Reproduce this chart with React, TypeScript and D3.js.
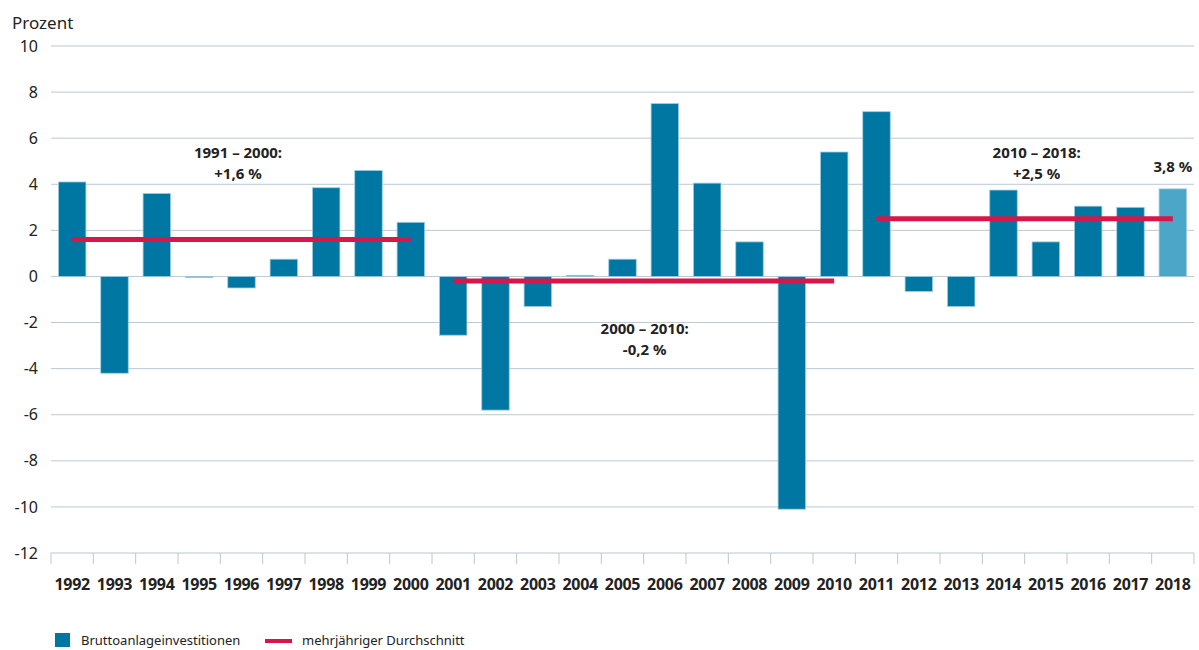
import * as d3 from "d3";

const years = [
  "1992", "1993", "1994", "1995", "1996", "1997", "1998", "1999", "2000",
  "2001", "2002", "2003", "2004", "2005", "2006", "2007", "2008", "2009",
  "2010", "2011", "2012", "2013", "2014", "2015", "2016", "2017", "2018",
];
const values = [
  4.1, -4.2, 3.6, -0.05, -0.5, 0.75, 3.85, 4.6, 2.35,
  -2.55, -5.8, -1.3, 0.05, 0.75, 7.5, 4.05, 1.5, -10.1,
  5.4, 7.15, -0.65, -1.3, 3.75, 1.5, 3.05, 3.0, 3.8,
];
const yTicks = [10, 8, 6, 4, 2, 0, -2, -4, -6, -8, -10, -12];

// mehrjähriger Durchschnitt
const avgFrom = ["1992", "2001", "2011"];
const avgTo = ["2000", "2010", "2018"];
const avgValues = [1.6, -0.2, 2.5];
const avgLabels = [
  ["1991 – 2000:", "+1,6 %"],
  ["2000 – 2010:", "-0,2 %"],
  ["2010 – 2018:", "+2,5 %"],
];
const avgLabelAt = [5.15, -2.5, 5.15];

const W = 1199;
const H = 650;
const BLUE = "#0077a3";
const LIGHT = "#4ca6c8";
const RED = "#d7174a";
const GRID = "#b9c9d5";
const FONT = "'Noto Sans', sans-serif";

export default function App() {
  const x = d3.scaleBand<string>().domain(years).range([51, 1194]).paddingInner(0.35).paddingOuter(0.175);
  const y = d3.scaleLinear().domain([-12, 10]).range([553, 46]);
  const step = x.step();
  const left = 51;

  return (
    <svg width={W} height={H} style={{ position: "absolute", left: 0, top: 0 }} fontFamily={FONT}>
      <text x={12} y={29} fontSize={17} fill="#222">Prozent</text>

      {yTicks.map((t) => (
        <g key={t}>
          <line x1={left} x2={1194} y1={y(t)} y2={y(t)} stroke={GRID} strokeWidth={1} />
          <text x={38} y={y(t)} dy="0.35em" textAnchor="end" fontSize={16} fill="#222">
            {t}
          </text>
        </g>
      ))}

      {d3.range(years.length + 1).map((i) => (
        <line key={i} x1={left + i * step} x2={left + i * step} y1={553} y2={564} stroke={GRID} strokeWidth={1} />
      ))}

      {years.map((yr, i) => {
        const v = values[i];
        return (
          <rect
            key={yr}
            x={x(yr)}
            y={y(Math.max(0, v))}
            width={x.bandwidth()}
            height={Math.abs(y(v) - y(0))}
            fill={yr === "2018" ? LIGHT : BLUE}
            stroke="#9fcde0"
            strokeWidth={0.8}
          />
        );
      })}

      {years.map((yr) => (
        <text key={yr} x={(x(yr) as number) + x.bandwidth() / 2} y={590} textAnchor="middle"
          fontSize={16} fontWeight="bold" fill="#222" letterSpacing={-0.3}>
          {yr}
        </text>
      ))}

      {avgValues.map((v, i) => (
        <line key={i}
          x1={(x(avgFrom[i]) as number) + x.bandwidth() / 2}
          x2={(x(avgTo[i]) as number) + x.bandwidth() / 2}
          y1={y(v)} y2={y(v)} stroke={RED} strokeWidth={5} />
      ))}

      {avgLabels.map((lab, i) => {
        const cx = i === 0
          ? 238
          : ((x(avgFrom[i]) as number) + (x(avgTo[i]) as number) + x.bandwidth()) / 2 + (i === 1 ? 1 : 12);
        return (
          <g key={i}>
            <text x={cx} y={y(avgLabelAt[i])} textAnchor="middle" fontSize={15} fontWeight="bold" fill="#222">
              {lab[0]}
            </text>
            <text x={cx} y={y(avgLabelAt[i]) + 21} textAnchor="middle" fontSize={15} fontWeight="bold" fill="#222">
              {lab[1]}
            </text>
          </g>
        );
      })}

      <text x={(x("2018") as number) + x.bandwidth() / 2} y={y(values[26]) - 17} textAnchor="middle"
        fontSize={15} fontWeight="bold" fill="#222">
        3,8 %
      </text>

      <rect x={55} y={633} width={15} height={14} fill={BLUE} />
      <text x={81} y={645} fontSize={13} fill="#222">Bruttoanlageinvestitionen</text>
      <line x1={265} x2={292} y1={641} y2={641} stroke={RED} strokeWidth={4} />
      <text x={302} y={645} fontSize={13} fill="#222">mehrjähriger Durchschnitt</text>
    </svg>
  );
}
